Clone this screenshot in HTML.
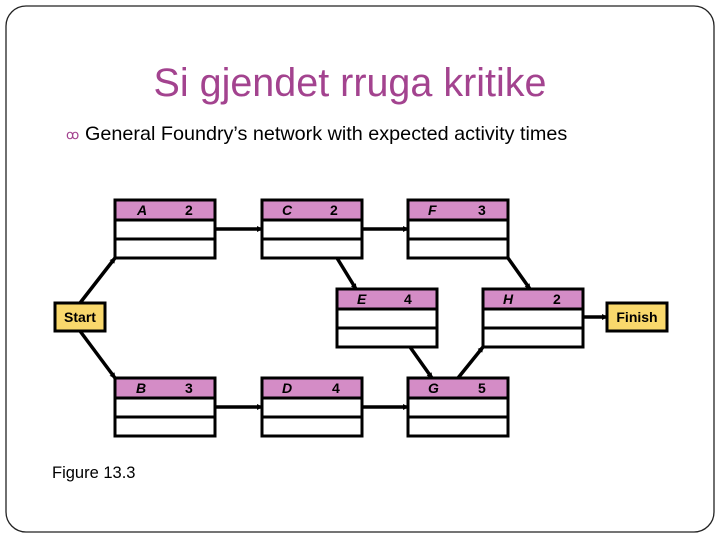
<!DOCTYPE html>
<html><head><meta charset="utf-8"><style>
html,body{margin:0;padding:0;background:#fff;}
svg{display:block;font-family:"Liberation Sans",sans-serif;}
</style></head><body>
<svg width="720" height="540" viewBox="0 0 720 540">
<defs><marker id="ah" markerWidth="6" markerHeight="6" refX="5" refY="3" orient="auto" markerUnits="userSpaceOnUse"><path d="M0,0 L6,3 L0,6 z" fill="#000"/></marker></defs>
<rect x="6" y="6" width="708" height="526" rx="20" fill="#fff" stroke="#222" stroke-width="1.3"/>
<text x="350" y="96" font-size="39.5" fill="#a3438f" text-anchor="middle">Si gjendet rruga kritike</text>
<text x="66" y="139" font-size="13" fill="#a3438f">ꝏ</text>
<text x="85" y="140" font-size="19.8" fill="#000">General Foundry’s network with expected activity times</text>
<g stroke="#000" stroke-width="3.5" fill="none" marker-end="url(#ah)">
<line x1="215" y1="229" x2="262" y2="229"/>
<line x1="362" y1="229" x2="408" y2="229"/>
<line x1="215" y1="407" x2="262" y2="407"/>
<line x1="362" y1="407" x2="408" y2="407"/>
<line x1="583" y1="317" x2="607" y2="317"/>
<line x1="80" y1="303" x2="115" y2="258"/>
<line x1="80" y1="331" x2="115" y2="378"/>
<line x1="337" y1="258" x2="356" y2="289"/>
<line x1="508" y1="258" x2="530" y2="289"/>
<line x1="410" y1="347" x2="432" y2="378"/>
<line x1="458" y1="378" x2="483" y2="347"/>
</g>
<g font-size="14" font-weight="bold">
<g transform="translate(115,200)"><rect width="100" height="20" fill="#d48cc6"/><rect width="100" height="58" fill="none" stroke="#000" stroke-width="3"/><line x1="0" y1="20" x2="100" y2="20" stroke="#000" stroke-width="3"/><line x1="0" y1="39" x2="100" y2="39" stroke="#000" stroke-width="3"/><text x="22" y="15" font-style="italic">A</text><text x="70" y="15">2</text></g>
<g transform="translate(262,200)"><rect width="100" height="20" fill="#d48cc6"/><rect width="100" height="58" fill="none" stroke="#000" stroke-width="3"/><line x1="0" y1="20" x2="100" y2="20" stroke="#000" stroke-width="3"/><line x1="0" y1="39" x2="100" y2="39" stroke="#000" stroke-width="3"/><text x="20" y="15" font-style="italic">C</text><text x="68" y="15">2</text></g>
<g transform="translate(408,200)"><rect width="100" height="20" fill="#d48cc6"/><rect width="100" height="58" fill="none" stroke="#000" stroke-width="3"/><line x1="0" y1="20" x2="100" y2="20" stroke="#000" stroke-width="3"/><line x1="0" y1="39" x2="100" y2="39" stroke="#000" stroke-width="3"/><text x="20" y="15" font-style="italic">F</text><text x="70" y="15">3</text></g>
<g transform="translate(337,289)"><rect width="100" height="20" fill="#d48cc6"/><rect width="100" height="58" fill="none" stroke="#000" stroke-width="3"/><line x1="0" y1="20" x2="100" y2="20" stroke="#000" stroke-width="3"/><line x1="0" y1="39" x2="100" y2="39" stroke="#000" stroke-width="3"/><text x="20" y="15" font-style="italic">E</text><text x="67" y="15">4</text></g>
<g transform="translate(483,289)"><rect width="100" height="20" fill="#d48cc6"/><rect width="100" height="58" fill="none" stroke="#000" stroke-width="3"/><line x1="0" y1="20" x2="100" y2="20" stroke="#000" stroke-width="3"/><line x1="0" y1="39" x2="100" y2="39" stroke="#000" stroke-width="3"/><text x="20" y="15" font-style="italic">H</text><text x="70" y="15">2</text></g>
<g transform="translate(115,378)"><rect width="100" height="20" fill="#d48cc6"/><rect width="100" height="58" fill="none" stroke="#000" stroke-width="3"/><line x1="0" y1="20" x2="100" y2="20" stroke="#000" stroke-width="3"/><line x1="0" y1="39" x2="100" y2="39" stroke="#000" stroke-width="3"/><text x="21" y="15" font-style="italic">B</text><text x="70" y="15">3</text></g>
<g transform="translate(262,378)"><rect width="100" height="20" fill="#d48cc6"/><rect width="100" height="58" fill="none" stroke="#000" stroke-width="3"/><line x1="0" y1="20" x2="100" y2="20" stroke="#000" stroke-width="3"/><line x1="0" y1="39" x2="100" y2="39" stroke="#000" stroke-width="3"/><text x="20" y="15" font-style="italic">D</text><text x="70" y="15">4</text></g>
<g transform="translate(408,378)"><rect width="100" height="20" fill="#d48cc6"/><rect width="100" height="58" fill="none" stroke="#000" stroke-width="3"/><line x1="0" y1="20" x2="100" y2="20" stroke="#000" stroke-width="3"/><line x1="0" y1="39" x2="100" y2="39" stroke="#000" stroke-width="3"/><text x="20" y="15" font-style="italic">G</text><text x="70" y="15">5</text></g>
<rect x="55" y="303" width="50" height="28" fill="#f9d86c" stroke="#000" stroke-width="3"/>
<text x="80" y="322" text-anchor="middle">Start</text>
<rect x="607" y="303" width="60" height="28" fill="#f9d86c" stroke="#000" stroke-width="3"/>
<text x="637" y="322" text-anchor="middle">Finish</text>
</g>
<text x="52" y="478" font-size="16.5">Figure 13.3</text>
</svg>
</body></html>
